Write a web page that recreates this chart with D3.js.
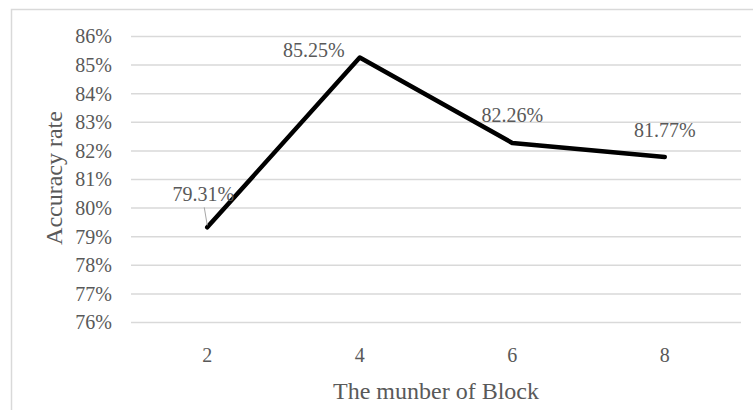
<!DOCTYPE html>
<html>
<head>
<meta charset="utf-8">
<script src="https://cdn.jsdelivr.net/npm/d3@7"></script>
<style>
  html, body { margin: 0; padding: 0; background: #fff; }
  svg { display: block; }
  svg text { font-family: "Liberation Serif", Tinos, "Times New Roman", Times, "DejaVu Serif", serif !important; fill: #595959; }
</style>
</head>
<body>
<svg id="chart" width="753" height="410"></svg>
<script>
// Accuracy rate for each number of blocks
const blocks = ["2", "4", "6", "8"];
const accuracy = [79.31, 85.25, 82.26, 81.77];
const yTicks = [76, 77, 78, 79, 80, 81, 82, 83, 84, 85, 86];

const svg = d3.select("#chart");
const W = 753, H = 410;
const plot = { left: 131, right: 741, top: 36, bottom: 322 };

// Chart area frame (extends past the canvas on the right and bottom)
svg.append("rect")
  .attr("x", 11.5).attr("y", 9.5)
  .attr("width", W + 20).attr("height", H + 20)
  .attr("fill", "none").attr("stroke", "#d9d9d9").attr("stroke-width", 1.5);

const x = d3.scaleBand().domain(blocks).range([plot.left, plot.right]).padding(0);
const y = d3.scaleLinear().domain([76, 86]).range([plot.bottom, plot.top]);
const cx = d => x(d) + x.bandwidth() / 2;

// Horizontal gridlines
svg.append("g")
  .attr("transform", `translate(${plot.left},0)`)
  .call(d3.axisLeft(y).tickValues(yTicks).tickSize(-(plot.right - plot.left)).tickFormat(""))
  .call(g => g.select(".domain").remove())
  .call(g => g.selectAll("line").attr("stroke", "#d9d9d9").attr("stroke-width", 1.5));

// Y tick labels
svg.append("g")
  .attr("transform", `translate(${plot.left - 19},0)`)
  .call(d3.axisLeft(y).tickValues(yTicks).tickSize(0).tickFormat(d => d + "%"))
  .call(g => g.select(".domain").remove())
  .call(g => g.selectAll("text")
    .attr("font-size", 20).attr("x", 0).attr("dy", "0.34em").attr("fill", "#595959"));

// X tick labels
svg.append("g")
  .attr("transform", `translate(0,${plot.bottom})`)
  .call(d3.axisBottom(x).tickSize(0).tickFormat(d => d))
  .call(g => g.select(".domain").remove())
  .call(g => g.selectAll("text")
    .attr("font-size", 20).attr("y", 33).attr("dy", "0.34em").attr("fill", "#595959"));

// Axis titles
svg.append("text")
  .attr("x", (plot.left + plot.right) / 2).attr("y", 399)
  .attr("text-anchor", "middle").attr("font-size", 24)
  .text("The munber of Block");

svg.append("text")
  .attr("transform", `translate(62,178) rotate(-90)`)
  .attr("text-anchor", "middle").attr("font-size", 24)
  .text("Accuracy rate");

// Data line
const data = blocks.map((b, i) => ({ b, v: accuracy[i] }));
svg.append("path")
  .datum(data)
  .attr("fill", "none").attr("stroke", "#000").attr("stroke-width", 4.5)
  .attr("stroke-linejoin", "round").attr("stroke-linecap", "round")
  .attr("d", d3.line().x(d => cx(d.b)).y(d => y(d.v)));

// Data labels with offsets from their points
const labelOffsets = [[-4, -26], [-46, 0], [0, -21], [0, -20]];
data.forEach((d, i) => {
  const px = cx(d.b), py = y(d.v);
  const [dx, dy] = labelOffsets[i];
  if (i === 0) {
    svg.append("line")
      .attr("x1", px - 3).attr("y1", py - 20)
      .attr("x2", px).attr("y2", py - 2)
      .attr("stroke", "#a6a6a6").attr("stroke-width", 1);
  }
  svg.append("text")
    .attr("x", px + dx).attr("y", py + dy)
    .attr("text-anchor", "middle").attr("font-size", 20)
    .text(d.v.toFixed(2) + "%");
});
</script>
</body>
</html>
